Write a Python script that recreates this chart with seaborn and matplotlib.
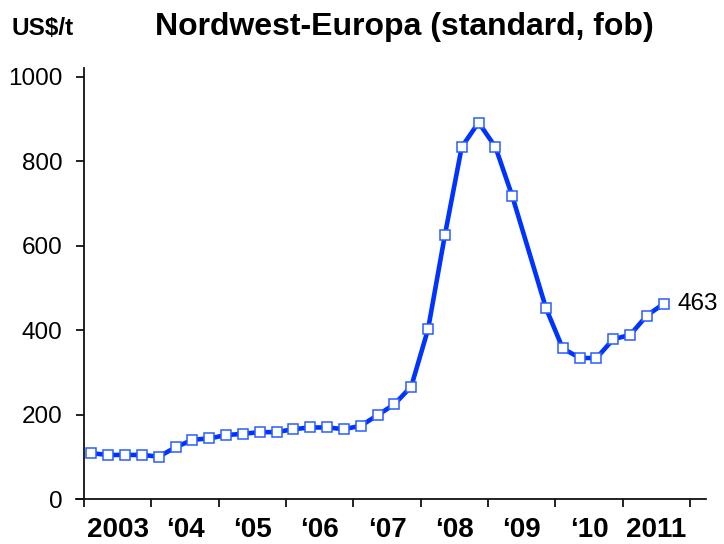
import matplotlib
matplotlib.use("Agg")
import matplotlib.pyplot as plt
import seaborn as sns
import pandas as pd

# --- data (quarterly, 2009 Q3 not reported) ---
quarters = [
    "2003Q1", "2003Q2", "2003Q3", "2003Q4",
    "2004Q1", "2004Q2", "2004Q3", "2004Q4",
    "2005Q1", "2005Q2", "2005Q3", "2005Q4",
    "2006Q1", "2006Q2", "2006Q3", "2006Q4",
    "2007Q1", "2007Q2", "2007Q3", "2007Q4",
    "2008Q1", "2008Q2", "2008Q3", "2008Q4",
    "2009Q1", "2009Q2", "2009Q4",
    "2010Q1", "2010Q2", "2010Q3", "2010Q4",
    "2011Q1", "2011Q2", "2011Q3",
]
prices = [
    109, 105, 105, 105,
    101, 123, 141, 144,
    152, 155, 159, 159,
    166, 170, 170, 166,
    174, 199, 225, 267,
    403, 626, 834, 892,
    834, 718, 453,
    357, 335, 334, 379,
    389, 435, 463,
]
years = list(range(2003, 2013))
year_labels = ["2003", "\u201804", "\u201805", "\u201806", "\u201807",
               "\u201808", "\u201809", "\u201810", "2011"]
y_ticks = [0, 200, 400, 600, 800, 1000]

title = "Nordwest-Europa (standard, fob)"
unit = "US$/t"

# --- style ---
sns.set_theme(style="white")
plt.rcParams["font.family"] = ["Liberation Sans", "DejaVu Sans"]
plt.rcParams["text.color"] = "black"
plt.rcParams["xtick.color"] = "black"
plt.rcParams["ytick.color"] = "black"

df = pd.DataFrame({"quarter": quarters, "price": prices})
df["t"] = df["quarter"].str[:4].astype(int) + (df["quarter"].str[-1].astype(int) - 1) * 0.25 + 0.11

fig = plt.figure(figsize=(7.24, 5.44), dpi=100)
ax = fig.add_axes([0.105, 0.0822, 0.8697, 0.792])

blue = "#0033ff"
sns.lineplot(data=df, x="t", y="price", ax=ax, color=blue, linewidth=3.3,
             marker="s", markersize=6.8, markerfacecolor="white",
             markeredgecolor="#2a5cff", markeredgewidth=1.1)

ax.set_xlim(2002.881, 2012.233)
ax.set_ylim(0, 1020)

# spines
for side in ["top", "right"]:
    ax.spines[side].set_visible(False)
ax.spines["left"].set_position(("data", 2003))
for side in ["left", "bottom"]:
    ax.spines[side].set_color("#111111")
    ax.spines[side].set_linewidth(1.3)

# y axis
ax.set_yticks(y_ticks)
ax.set_yticklabels([str(v) for v in y_ticks], fontsize=17.5)
ax.tick_params(axis="y", direction="out", length=5.5, width=1.3, pad=10,
               color="#111111", left=True)

# x axis: ticks at year boundaries, labels centred in each year
ax.set_xticks(years)
ax.set_xticklabels([""] * len(years))
ax.set_xticks([y + 0.5 for y in years[:-1]], minor=True)
ax.set_xticklabels(year_labels, minor=True, fontsize=20, fontweight="bold")
ax.tick_params(axis="x", which="major", direction="out", length=6, width=1.3,
               color="#111111", bottom=True)
ax.tick_params(axis="x", which="minor", length=0, pad=13, bottom=True)

ax.set_xlabel("")
ax.set_ylabel("")
ax.grid(False)

# last value label
ax.annotate(f"{prices[-1]}", xy=(df["t"].iloc[-1], prices[-1]),
            xytext=(10, 0), textcoords="offset points",
            va="center", ha="left", fontsize=17.5, annotation_clip=False)

# header texts
fig.text(0.558, 0.935, title, ha="center", va="baseline",
         fontsize=23, fontweight="bold")
fig.text(0.016, 0.935, unit, ha="left", va="baseline",
         fontsize=17.5, fontweight="bold")

fig.savefig("out.png", dpi=100)
